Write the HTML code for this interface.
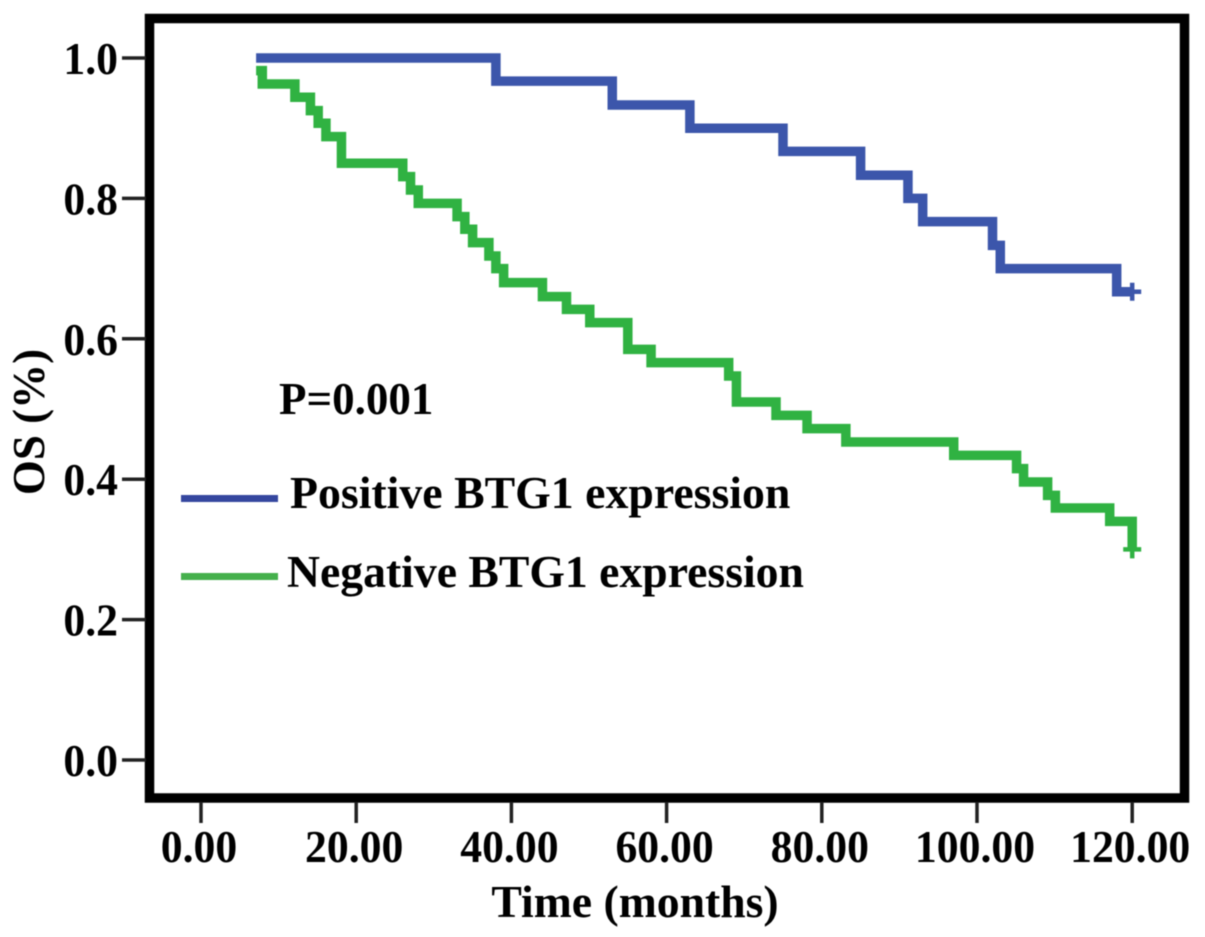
<!DOCTYPE html>
<html lang="en">
<head>
<meta charset="utf-8">
<title>OS by BTG1 expression</title>
<style>
html,body{margin:0;padding:0;background:#fff;}
svg{display:block;filter:blur(0.5px);}
text{font-family:"Liberation Serif",serif;font-weight:bold;fill:#000;}
</style>
</head>
<body>
<svg id="chart" xmlns="http://www.w3.org/2000/svg" width="1205" height="937" viewBox="0 0 1205 937">
  <rect x="0" y="0" width="1205" height="937" fill="#ffffff"/>
  <rect x="149.5" y="18.5" width="1035" height="779.5" fill="none" stroke="#000" stroke-width="9.5"/>
  <g id="x-axis"></g>
  <g id="y-axis"></g>
  <g id="series"></g>
  <text transform="translate(44,422) rotate(-90)" text-anchor="middle" font-size="45">OS (%)</text>
  <text x="635" y="917" text-anchor="middle" font-size="45.7">Time (months)</text>
  <text x="279" y="414" font-size="45">P=0.001</text>
  <rect x="181" y="495" width="97" height="7" fill="#35479f"/>
  <text x="290" y="508" font-size="45.8">Positive BTG1 expression</text>
  <rect x="181" y="573" width="97" height="7" fill="#45b04c"/>
  <text x="287" y="587" font-size="45.7">Negative BTG1 expression</text>
</svg>
<script>
const xTicks = [0, 20, 40, 60, 80, 100, 120];
const xTickLabels = ["0.00", "20.00", "40.00", "60.00", "80.00", "100.00", "120.00"];
const yTicks = [0, 0.2, 0.4, 0.6, 0.8, 1.0];
const yTickLabels = ["0.0", "0.2", "0.4", "0.6", "0.8", "1.0"];

const positiveTimes = [7.1, 38, 53, 63, 75, 85, 91.1, 93, 102, 103, 118, 120];
const positiveSurvival = [1.0, 0.967, 0.933, 0.9, 0.867, 0.833, 0.8, 0.767, 0.733, 0.7, 0.667, 0.667];
const positiveCensorTimes = [120];
const positiveCensorValues = [0.667];

const negativeTimes = [7.1, 7.9, 12.1, 14.1, 15.1, 16.1, 18.1, 26, 27, 28, 33, 34, 35, 37.1, 38, 39, 44, 47.1, 50.1, 55, 58, 68, 69, 74.1, 78.1, 83.1, 97, 105.1, 106, 109.1, 110.1, 117.1, 120];
const negativeSurvival = [0.982, 0.963, 0.944, 0.925, 0.907, 0.888, 0.85, 0.831, 0.812, 0.793, 0.774, 0.756, 0.737, 0.718, 0.7, 0.68, 0.66, 0.642, 0.623, 0.585, 0.566, 0.547, 0.51, 0.491, 0.472, 0.453, 0.434, 0.415, 0.396, 0.377, 0.359, 0.34, 0.3];
const negativeCensorTimes = [120];
const negativeCensorValues = [0.3];

const SVG_NS = "http://www.w3.org/2000/svg";
function xScale(t) { return 201 + t * 7.76; }
function yScale(v) { return 760 - v * 702; }

function makeEl(tag, attrs, parent) {
  const el = document.createElementNS(SVG_NS, tag);
  for (const k in attrs) el.setAttribute(k, attrs[k]);
  parent.appendChild(el);
  return el;
}

const xAxis = document.getElementById("x-axis");
xTicks.forEach(function (t, i) {
  const tick = makeEl("line", { x1: xScale(t), x2: xScale(t), y1: 802, y2: 823, stroke: "#222", "stroke-width": 3.5 }, xAxis);
  
  
  const lx = xScale(t) - 2;
  const label = makeEl("text", { transform: "translate(" + lx + ",862) scale(0.95,1)", "text-anchor": "middle", "font-size": 46 }, xAxis);
  
  
  label.textContent = xTickLabels[i];
});

const yAxis = document.getElementById("y-axis");
yTicks.forEach(function (v, i) {
  const tick = makeEl("line", { x1: 122, x2: 146, y1: yScale(v), y2: yScale(v), stroke: "#222", "stroke-width": 3.5 }, yAxis);
  
  
  const ly = yScale(v) + 16;
  const label = makeEl("text", { transform: "translate(118," + ly + ") scale(0.95,1)", "text-anchor": "end", "font-size": 46 }, yAxis);
  
  
  label.textContent = yTickLabels[i];
});

function stepPath(times, values) {
  let d = "M" + xScale(times[0]) + " " + yScale(values[0]);
  for (let i = 1; i < times.length; i++) {
    d += "H" + xScale(times[i]) + "V" + yScale(values[i]);
  }
  return d;
}

function censorPath(t, v) {
  const x = xScale(t), y = yScale(v);
  return "M" + (x - 9) + " " + y + "H" + (x + 9) + "M" + x + " " + (y - 9) + "V" + (y + 9);
}

const series = document.getElementById("series");

const positiveLine = makeEl("path", { d: stepPath(positiveTimes, positiveSurvival), fill: "none", stroke: "#3c56ab", "stroke-width": 9.5, "stroke-linejoin": "miter" }, series);



positiveCensorTimes.forEach(function (t, i) {
  const m = makeEl("path", { d: censorPath(t, positiveCensorValues[i]), fill: "none", stroke: "#3c56ab", "stroke-width": 4.5 }, series);
  
  
});

const negativeLine = makeEl("path", { d: stepPath(negativeTimes, negativeSurvival), fill: "none", stroke: "#30b242", "stroke-width": 9.5, "stroke-linejoin": "miter" }, series);



negativeCensorTimes.forEach(function (t, i) {
  const m = makeEl("path", { d: censorPath(t, negativeCensorValues[i]), fill: "none", stroke: "#30b242", "stroke-width": 4.5 }, series);
  
  
});
</script>
</body>
</html>
